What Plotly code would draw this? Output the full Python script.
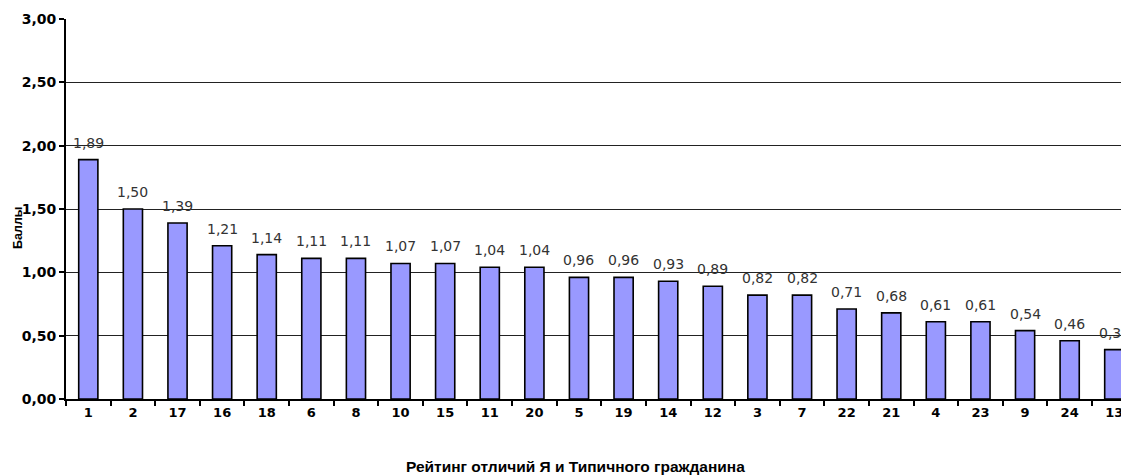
import plotly.graph_objects as go

categories = ["1", "2", "17", "16", "18", "6", "8", "10", "15", "11", "20", "5",
              "19", "14", "12", "3", "7", "22", "21", "4", "23", "9", "24", "13"]
values = [1.89, 1.50, 1.39, 1.21, 1.14, 1.11, 1.11, 1.07, 1.07, 1.04, 1.04, 0.96,
          0.96, 0.93, 0.89, 0.82, 0.82, 0.71, 0.68, 0.61, 0.61, 0.54, 0.46, 0.39]
y_ticks = [0, 0.5, 1.0, 1.5, 2.0, 2.5, 3.0]
x_title = "Рейтинг отличий Я и Типичного гражданина"
y_title = "Баллы"

# page body has an 8px default margin; compensate so the plot lands where the reference has it
OFF = 8
W, H = 1129 - OFF, 475 - OFF
ml, mr, mt, mb = 66 - OFF, 0, 19 - OFF, 76
plot_w = W - ml - mr
plot_h = H - mt - mb

fig = go.Figure()
fig.add_trace(go.Bar(
    x=categories, y=values, width=0.43,
    marker=dict(color="#9999FF", line=dict(color="black", width=1.6)),
    hoverinfo="skip",
))

for i, v in enumerate(values):
    fig.add_annotation(
        x=i, y=v, text=f"{v:.2f}".replace(".", ","), showarrow=False,
        yshift=17, font=dict(family="DejaVu Sans", size=14, color="#333333"),
    )

fig.add_annotation(
    xref="paper", yref="paper", x=(18 - 66) / plot_w, y=(399 - 228) / plot_h,
    text=f"<b>{y_title}</b>", textangle=-90, showarrow=False,
    font=dict(family="Liberation Sans, Arial", size=12.5, color="black"),
    xanchor="center", yanchor="middle",
)
fig.add_annotation(
    xref="paper", yref="paper", x=(575 - 66) / plot_w, y=0, yshift=-67,
    text=f"<b>{x_title}</b>", showarrow=False,
    font=dict(family="Liberation Sans, Arial", size=15.5, color="black"),
    xanchor="center", yanchor="middle",
)

fig.update_layout(
    width=W, height=H,
    margin=dict(l=ml, r=mr, t=mt, b=mb),
    plot_bgcolor="white", paper_bgcolor="white",
    separators=", ",
    showlegend=False,
    font=dict(family="Liberation Sans, Arial", color="black"),
)
fig.update_xaxes(
    type="category", range=[-0.5, 23.33],
    showline=True, linecolor="black", linewidth=2,
    ticks="outside", tickson="boundaries", ticklen=5, tickwidth=1.5, tickcolor="black",
    showgrid=False,
    tickfont=dict(family="DejaVu Sans", size=13, color="black", weight="bold"),
)
fig.update_yaxes(
    range=[0, 3], tickvals=y_ticks, tickformat=".2f",
    showline=True, linecolor="black", linewidth=2,
    ticks="outside", ticklen=5, tickwidth=1.5, tickcolor="black",
    showgrid=True, gridcolor="#222222", gridwidth=1,
    zeroline=False,
    tickfont=dict(family="DejaVu Sans", size=14, color="black", weight="bold"),
)

fig.write_html("out.html")
